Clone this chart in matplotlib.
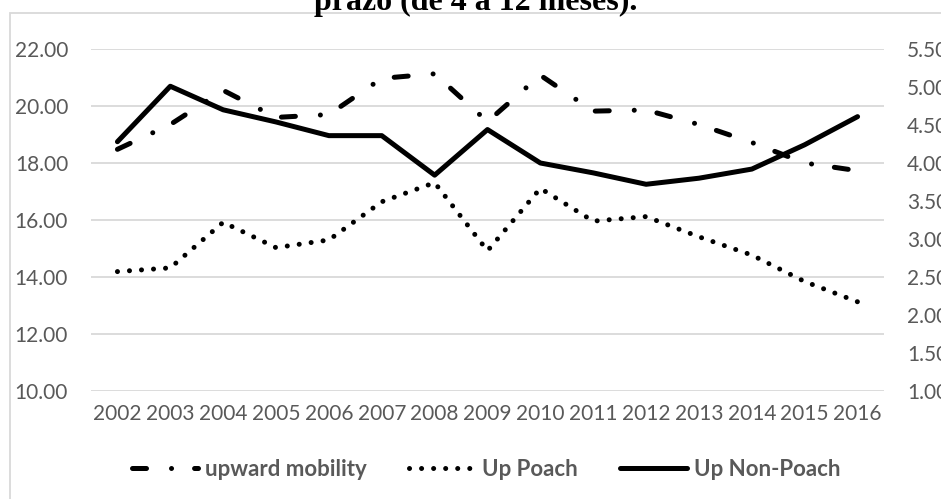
import numpy as np
import matplotlib.pyplot as plt
from matplotlib.patches import Rectangle
from matplotlib.ticker import FormatStrFormatter

years = ['2002', '2003', '2004', '2005', '2006', '2007', '2008', '2009',
         '2010', '2011', '2012', '2013', '2014', '2015', '2016']
upward_mobility = [18.48, 19.35, 20.55, 19.60, 19.70, 20.97, 21.13, 19.45,
                   21.08, 19.82, 19.86, 19.35, 18.72, 18.00, 17.73]
up_poach = [14.19, 14.32, 15.92, 15.03, 15.30, 16.64, 17.31, 14.92,
            17.11, 15.96, 16.12, 15.41, 14.77, 13.84, 13.13]
# right axis
up_non_poach = [4.28, 5.01, 4.70, 4.54, 4.36, 4.36, 3.84, 4.44,
                4.00, 3.87, 3.72, 3.80, 3.92, 4.24, 4.61]

title = 'prazo (de 4 a 12 meses).'
gray = '#595959'
grid_gray = '#d9d9d9'
lw = 3.6

plt.rcParams['font.family'] = ['Lato', 'DejaVu Sans']

fig = plt.figure(figsize=(9.41, 4.99), dpi=100)
ax = fig.add_axes([91/941, 1 - 391/499, (884 - 91)/941, (391 - 49)/499])
ax2 = ax.twinx()

# chart border (cut by the image on the right and bottom)
fig.patches.append(Rectangle((10/941, -0.2), 1.2, 1.2 - 12.7/499, transform=fig.transFigure,
                             fill=False, edgecolor=grid_gray, linewidth=1.3, zorder=0))

x = np.arange(len(years))

l1, = ax.plot(x, upward_mobility, color='black', lw=lw,
              linestyle=(0, (2.8, 5.0, 0.01, 4.6)), dash_capstyle='round', zorder=3)
l2, = ax.plot(x, up_poach, color='black', lw=lw,
              linestyle=(0, (0.01, 2.4)), dash_capstyle='round', zorder=3)
l3, = ax2.plot(x, up_non_poach, color='black', lw=lw, solid_capstyle='round', zorder=3)

ax.set_xlim(-0.5, len(years) - 0.5)
ax.set_ylim(10, 22)
ax.set_yticks(np.arange(10, 22.1, 2))
ax.yaxis.set_major_formatter(FormatStrFormatter('%.2f'))
ax2.set_ylim(1.0, 5.5)
ax2.set_yticks(np.arange(1.0, 5.51, 0.5))
ax2.yaxis.set_major_formatter(FormatStrFormatter('%.2f'))

ax.set_xticks(x)
ax.set_xticklabels(years)
ax.grid(axis='y', color=grid_gray, linewidth=1.3)
ax.set_axisbelow(True)

for a in (ax, ax2):
    for s in a.spines.values():
        s.set_visible(False)
    a.tick_params(length=0, labelsize=15, labelcolor=gray)
ax.tick_params(axis='y', pad=16.5)
ax2.tick_params(axis='y', pad=16.5)
ax.tick_params(axis='x', pad=9)

fig.text(476/941, 1 - 10/499, title, family='Liberation Serif', fontweight='bold',
         fontsize=23, ha='center', va='baseline')

leg = fig.legend([l1, l2, l3], ['upward mobility', 'Up Poach', 'Up Non-Poach'],
                 loc='center', bbox_to_anchor=(486/941, 1 - 469/499), ncol=3,
                 frameon=False, handlelength=3.0, handletextpad=0.3, columnspacing=1.9,
                 prop={'family': 'Lato', 'weight': 'bold', 'size': 16})
for t in leg.get_texts():
    t.set_color(gray)

fig.savefig('out.png', dpi=100)
